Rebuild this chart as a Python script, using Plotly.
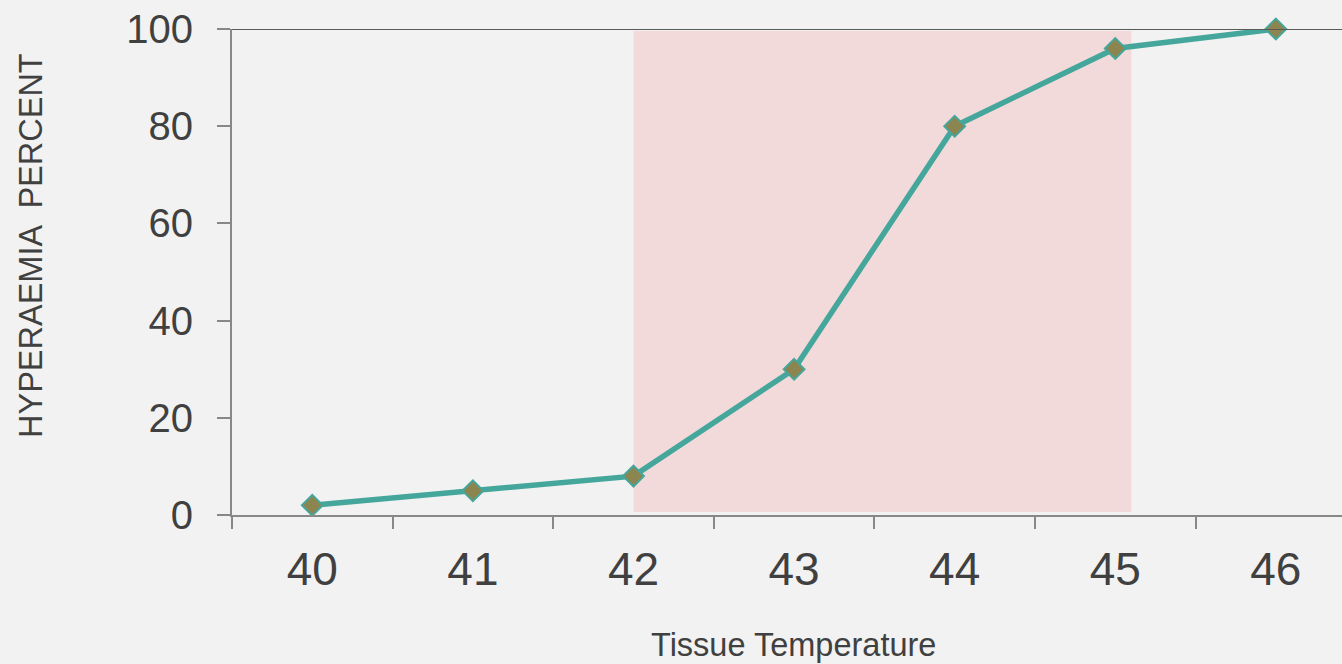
import plotly.graph_objects as go

temperatures = ["40", "41", "42", "43", "44", "45", "46"]
hyperaemia_pct = [2, 5, 8, 30, 80, 96, 100]
y_ticks = [0, 20, 40, 60, 80, 100]
shade_start_idx = 2.0
shade_end_idx = 5.1

fig = go.Figure()
fig.add_shape(type="rect", xref="x", yref="y", x0=shade_start_idx, x1=shade_end_idx,
              y0=0.6, y1=99.6, fillcolor="#f2dada", line=dict(width=0), layer="below")
fig.add_shape(type="line", xref="paper", yref="y", x0=0, x1=1, y0=100, y1=100,
              line=dict(color="#595959", width=2), layer="above")

fig.add_trace(go.Scatter(
    x=temperatures, y=hyperaemia_pct, mode="lines+markers",
    line=dict(color="#45a69c", width=5.5),
    marker=dict(symbol="diamond", size=16, color="#8c8550",
                line=dict(color="#45a69c", width=2)),
    cliponaxis=False, showlegend=False,
))

font_family = "Liberation Sans, Arial, sans-serif"
fig.add_annotation(text="Tissue Temperature", xref="paper", yref="paper",
                   x=0.5063, y=-0.2675, xanchor="center", yanchor="middle",
                   showarrow=False, font=dict(size=32.5, color="#404040"))
fig.add_annotation(text="HYPERAEMIA  PERCENT", xref="paper", yref="paper",
                   x=-0.1811, y=0.5556, xanchor="center", yanchor="middle", textangle=-90,
                   showarrow=False, font=dict(size=32.5, color="#404040"))

fig.update_layout(
    width=1342, height=664,
    margin=dict(l=232, r=0, t=29, b=149),
    paper_bgcolor="#f2f2f2", plot_bgcolor="#f2f2f2",
    font=dict(family=font_family, color="#404040"),
    xaxis=dict(
        type="category", range=[-0.5, 6.412], tickson="boundaries",
        ticks="outside", ticklen=12, tickwidth=2, tickcolor="#888888",
        showline=True, linecolor="#888888", linewidth=2,
        showgrid=False, zeroline=False,
        tickfont=dict(size=46, color="#404040"), ticklabelstandoff=13,
    ),
    yaxis=dict(
        range=[0, 100], tickvals=y_ticks,
        ticks="outside", ticklen=13, tickwidth=2, tickcolor="#888888",
        showline=True, linecolor="#888888", linewidth=2,
        showgrid=False, zeroline=False,
        tickfont=dict(size=40, color="#404040"), ticklabelstandoff=16,
    ),
)

fig.write_html("out.html", config={"displayModeBar": False},
               post_script="document.body.style.margin='0';document.body.style.background='#f2f2f2';")
